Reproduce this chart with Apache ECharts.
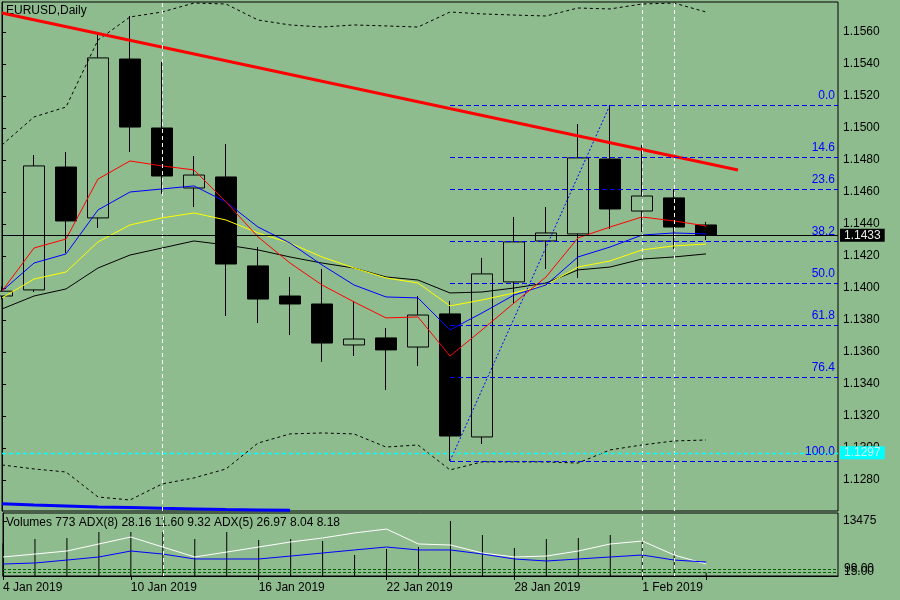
<!DOCTYPE html>
<html>
<head>
    <meta charset="utf-8">
    <title>EURUSD,Daily</title>
    <script src="https://cdn.jsdelivr.net/npm/echarts@6.0.0/dist/echarts.min.js"></script>
    <style>
        html, body { margin: 0; padding: 0; background: #8fbc8f; }
        #chart { width: 900px; height: 600px; }
    </style>
</head>
<body>
<div id="chart"></div>
<script type="text/javascript">
    // one bar per trading day, 4 Jan .. 5 Feb 2019 (index 0..22)
    var dateLabels = ['4 Jan 2019', '10 Jan 2019', '16 Jan 2019', '22 Jan 2019', '28 Jan 2019', '1 Feb 2019'];
    var dateLabelIdx = [0, 4, 8, 12, 16, 20];
    var separatorIdx = [5, 20, 21];

    var opens  = [1.1395, 1.13988, 1.14756, 1.14438, 1.15431, 1.1500, 1.14625, 1.14694, 1.14138, 1.1395, 1.1390, 1.13644, 1.13688, 1.13631, 1.13838, 1.13069, 1.14038, 1.14294, 1.14338, 1.14806, 1.14481, 1.14563, 1.14394];
    var closes = [1.1398, 1.14763, 1.14419, 1.15438, 1.15006, 1.1470, 1.14706, 1.1415, 1.13931, 1.1390, 1.13656, 1.13681, 1.13613, 1.13831, 1.13075, 1.14088, 1.14288, 1.14344, 1.14813, 1.14494, 1.14575, 1.14381, 1.1433];
    var lows   = [1.1393, 1.13975, 1.14219, 1.14375, 1.1485, 1.14588, 1.14506, 1.13825, 1.13781, 1.13706, 1.13538, 1.13575, 1.13363, 1.13513, 1.12919, 1.13025, 1.13906, 1.14119, 1.14063, 1.14369, 1.1435, 1.14244, 1.1430];
    var highs  = [1.1401, 1.14831, 1.1485, 1.15594, 1.1570, 1.15413, 1.14825, 1.1490, 1.14256, 1.14069, 1.14119, 1.13919, 1.1375, 1.1395, 1.13919, 1.14188, 1.14444, 1.14506, 1.15025, 1.15144, 1.14894, 1.14619, 1.14413];

    // moving averages
    var maRed    = [1.13981, 1.1425, 1.14306, 1.14681, 1.14794, 1.14763, 1.14738, 1.14538, 1.14319, 1.14156, 1.14019, 1.13913, 1.13813, 1.13819, 1.13575, 1.13738, 1.13906, 1.14069, 1.14313, 1.14381, 1.14444, 1.14419, 1.14388];
    var maBlue   = [1.13981, 1.14156, 1.14213, 1.14488, 1.146, 1.14619, 1.14638, 1.14538, 1.14381, 1.14281, 1.14144, 1.14019, 1.13944, 1.13938, 1.13738, 1.13844, 1.13956, 1.14019, 1.14194, 1.14256, 1.14331, 1.14344, 1.14338];
    var maYellow = [1.13938, 1.14056, 1.141, 1.14288, 1.14394, 1.14438, 1.14469, 1.14425, 1.14344, 1.14281, 1.14194, 1.14125, 1.14063, 1.14031, 1.13888, 1.13925, 1.13969, 1.14019, 1.14131, 1.14169, 1.14238, 1.14263, 1.14275];
    var maBlack  = [1.13869, 1.1395, 1.13994, 1.14125, 1.14206, 1.1425, 1.14294, 1.14269, 1.14238, 1.14194, 1.14156, 1.14125, 1.14069, 1.1405, 1.13969, 1.13975, 1.14, 1.14031, 1.14113, 1.14131, 1.14181, 1.14194, 1.14213];

    // envelope bands (dashed)
    var bandUpper = [1.14894, 1.15069, 1.15131, 1.1555, 1.15694, 1.15725, 1.15781, 1.15775, 1.15675, 1.15644, 1.15631, 1.15644, 1.15638, 1.15631, 1.15725, 1.15713, 1.15706, 1.157, 1.1575, 1.15744, 1.15775, 1.15781, 1.15725];
    var bandLower = [1.12894, 1.12869, 1.1285, 1.12694, 1.12675, 1.12775, 1.12813, 1.12869, 1.13031, 1.13088, 1.13094, 1.13088, 1.13006, 1.13019, 1.12863, 1.12913, 1.12913, 1.12913, 1.12906, 1.12988, 1.13019, 1.13044, 1.1305];

    // thick blue line at the foot of the price panel (bars 0..9)
    var baseBlue = [1.12652, 1.12644, 1.12638, 1.12631, 1.12628, 1.12623, 1.12619, 1.12615, 1.12613, 1.12611];

    // trend line and fibonacci
    var trendStart = [0, 1.15719];
    var trendEnd = [23, 1.14738];
    var fibFrom = [14, 1.12919];
    var fibTo = [19, 1.15144];
    var fibNames  = ['0.0', '14.6', '23.6', '38.2', '50.0', '61.8', '76.4', '100.0'];
    var fibPrices = [1.15144, 1.14819, 1.14619, 1.14294, 1.14031, 1.13769, 1.13444, 1.12919];
    var lastPrice = 1.1433;
    var cyanPrice = 1.1297;

    var priceTicks = [1.128, 1.130, 1.132, 1.134, 1.136, 1.138, 1.140, 1.142, 1.144, 1.146, 1.148, 1.150, 1.152, 1.154, 1.156];

    // lower panel
    var volumes  = [8000, 9065, 9310, 10780, 10780, 10780, 9065, 10780, 8820, 9065, 8575, 5145, 6615, 7105, 13475, 10045, 6860, 9065, 9310, 10045, 8820, 6125, 773];
    var volumeTicks = [13475];
    var adxWhite = [18.1, 20.9, 23.8, 30.5, 37.1, 27.6, 18.1, 22.8, 27.6, 32.4, 36.2, 41.0, 44.7, 30.5, 29.5, 21.9, 18.1, 19.0, 23.8, 30.5, 33.3, 20.0, 11.4];
    var adxBlue  = [11.4, 12.4, 15.2, 18.1, 23.8, 20.9, 16.2, 16.2, 16.2, 19.0, 21.9, 24.8, 27.6, 24.8, 24.8, 20.9, 16.2, 14.3, 16.2, 18.1, 20.0, 15.2, 13.3];
    var adxLevels = [6.7, 3.8];
    var adxLevelNames = ['99.00', '15.00'];

    var FONT = 'Liberation Sans';
    var BG = '#8fbc8f';
    var X_MAX = 26.125;

    function indexed(arr) {
        return arr.map(function (v, i) { return [i, v]; });
    }

    var candles = opens.map(function (o, i) {
        return [i, o, closes[i], lows[i], highs[i]];
    });

    var fibStyle = { color: '#0000ff', width: 1, type: [5, 3] };
    var fibLines = fibPrices.map(function (p, k) {
        return [{ coord: [fibFrom[0], p], name: fibNames[k], lineStyle: fibStyle }, { coord: [X_MAX, p] }];
    });

    var separators = separatorIdx.map(function (i) { return { xAxis: i }; });

    function maSeries(arr, color) {
        return {
            type: 'line', xAxisIndex: 0, yAxisIndex: 0, data: indexed(arr),
            symbol: 'none', silent: true,
            lineStyle: { color: color, width: 1 }
        };
    }

    function bandSeries(arr) {
        return {
            type: 'line', xAxisIndex: 0, yAxisIndex: 0, data: indexed(arr),
            symbol: 'none', silent: true,
            lineStyle: { color: '#000', width: 1, type: [3, 3] }
        };
    }

    function priceLabel(text, bg, fg) {
        return {
            show: true, position: 'end', distance: 2, formatter: text,
            backgroundColor: bg, color: fg, padding: [1, 4, 0, 4],
            fontSize: 12, fontFamily: FONT
        };
    }

    var myChart = echarts.init(document.getElementById('chart'));

    myChart.setOption({
        animation: false,
        backgroundColor: BG,
        textStyle: { fontFamily: FONT },
        graphic: [
            { type: 'text', left: 6, top: 5, style: { text: 'EURUSD,Daily', fill: '#000', fontSize: 12, fontFamily: FONT } },
            { type: 'text', left: 6, top: 517, style: { text: 'Volumes 773 ADX(8) 28.16 11.60 9.32 ADX(5) 26.97 8.04 8.18', fill: '#000', fontSize: 12, fontFamily: FONT } }
        ],
        grid: [
            { left: 2, right: 62, top: 2, height: 509, show: true, borderColor: '#000', borderWidth: 1, backgroundColor: 'transparent' },
            { left: 2, right: 62, top: 513, height: 63, show: true, borderColor: '#000', borderWidth: 1, backgroundColor: 'transparent' }
        ],
        xAxis: [
            { type: 'value', gridIndex: 0, min: 0, max: X_MAX, show: false },
            {
                type: 'value', gridIndex: 1, min: 0, max: X_MAX,
                axisLine: { show: true, lineStyle: { color: '#000' } },
                axisTick: { show: true, customValues: dateLabelIdx.concat([22]), length: 4, lineStyle: { color: '#000' } },
                axisLabel: {
                    customValues: dateLabelIdx, align: 'left', margin: 6,
                    color: '#000', fontSize: 12, fontFamily: FONT,
                    formatter: function (v) {
                        var k = dateLabelIdx.indexOf(Math.round(v));
                        return k >= 0 ? dateLabels[k] : '';
                    }
                },
                splitLine: { show: false }
            }
        ],
        yAxis: [
            {
                type: 'value', gridIndex: 0, position: 'right', min: 1.1260625, max: 1.157875,
                axisLine: { show: true, lineStyle: { color: '#000' } },
                axisTick: { show: true, customValues: priceTicks, length: 4, lineStyle: { color: '#000' } },
                axisLabel: {
                    customValues: priceTicks, margin: 5, color: '#000', fontSize: 12, fontFamily: FONT,
                    formatter: function (v) { return v.toFixed(4); }
                },
                splitLine: { show: false }
            },
            {
                type: 'value', gridIndex: 1, position: 'right', min: 0, max: 15435,
                axisLine: { show: true, lineStyle: { color: '#000' } },
                axisTick: { show: true, customValues: volumeTicks, length: 4, lineStyle: { color: '#000' } },
                axisLabel: {
                    customValues: volumeTicks, margin: 5, color: '#000', fontSize: 12, fontFamily: FONT,
                    formatter: function (v) { return String(Math.round(v)); }
                },
                splitLine: { show: false }
            },
            { type: 'value', gridIndex: 1, min: 0, max: 60, show: false }
        ],
        series: [
            // period separators, drawn under everything
            {
                type: 'line', xAxisIndex: 0, yAxisIndex: 0, data: [], silent: true,
                markLine: {
                    symbol: ['none', 'none'], silent: true, label: { show: false },
                    lineStyle: { color: '#ffffff', width: 1, type: [4, 3] },
                    data: separators
                }
            },
            {
                type: 'line', xAxisIndex: 1, yAxisIndex: 1, data: [], silent: true,
                markLine: {
                    symbol: ['none', 'none'], silent: true, label: { show: false },
                    lineStyle: { color: '#ffffff', width: 1, type: [4, 3] },
                    data: separators
                }
            },
            {
                type: 'candlestick', xAxisIndex: 0, yAxisIndex: 0, data: candles,
                encode: { x: 0, y: [1, 2, 3, 4] },
                barWidth: 22, silent: true,
                itemStyle: { color: BG, color0: '#000', borderColor: '#000', borderColor0: '#000', borderWidth: 1 }
            },
            // bid line and cyan level with their price boxes
            {
                type: 'line', xAxisIndex: 0, yAxisIndex: 0, data: [], silent: true,
                markLine: {
                    symbol: ['none', 'none'], silent: true, precision: 5,
                    data: [
                        {
                            yAxis: lastPrice,
                            lineStyle: { color: '#000', width: 1, type: 'solid' },
                            label: priceLabel(lastPrice.toFixed(4), '#000', '#e8f0e8')
                        },
                        {
                            yAxis: cyanPrice,
                            lineStyle: { color: '#00ffff', width: 1.4, type: [4, 3] },
                            label: priceLabel(cyanPrice.toFixed(4), '#00ffff', '#c8f4f0')
                        }
                    ]
                }
            },
            bandSeries(bandUpper),
            bandSeries(bandLower),
            maSeries(maBlack, '#000000'),
            maSeries(maYellow, '#ffff00'),
            maSeries(maBlue, '#0000ff'),
            maSeries(maRed, '#ff0000'),
            {
                type: 'line', xAxisIndex: 0, yAxisIndex: 0, data: indexed(baseBlue),
                symbol: 'none', silent: true, lineStyle: { color: '#0000ff', width: 3 }
            },
            // fibonacci retracement: diagonal + levels
            {
                type: 'line', xAxisIndex: 0, yAxisIndex: 0, data: [fibFrom, fibTo],
                symbol: 'none', silent: true, lineStyle: { color: '#0000ff', width: 1, type: [2, 2] },
                markLine: {
                    symbol: ['none', 'none'], silent: true, precision: 5,
                    lineStyle: fibStyle,
                    label: {
                        show: true, position: 'insideEndTop', distance: 3, formatter: '{b}',
                        color: '#0000ff', fontSize: 12, fontFamily: FONT
                    },
                    data: fibLines
                }
            },
            {
                type: 'line', xAxisIndex: 0, yAxisIndex: 0, data: [trendStart, trendEnd],
                symbol: 'none', silent: true, lineStyle: { color: '#ff0000', width: 3 }
            },
            // lower panel: volumes + ADX
            {
                type: 'bar', xAxisIndex: 1, yAxisIndex: 1, data: indexed(volumes),
                barWidth: 1, silent: true, itemStyle: { color: '#000' }
            },
            {
                type: 'line', xAxisIndex: 1, yAxisIndex: 2, data: indexed(adxWhite),
                symbol: 'none', silent: true, lineStyle: { color: '#ffffff', width: 1 },
                markLine: {
                    symbol: ['none', 'none'], silent: true,
                    lineStyle: { color: '#006400', width: 1, type: [3, 2] },
                    label: { show: true, position: 'end', distance: 6, formatter: '{b}', color: '#000', fontSize: 12, fontFamily: FONT },
                    data: adxLevels.map(function (v, k) { return { yAxis: v, name: adxLevelNames[k] }; })
                }
            },
            {
                type: 'line', xAxisIndex: 1, yAxisIndex: 2, data: indexed(adxBlue),
                symbol: 'none', silent: true, lineStyle: { color: '#0000ff', width: 1 }
            }
        ]
    });
</script>
</body>
</html>
